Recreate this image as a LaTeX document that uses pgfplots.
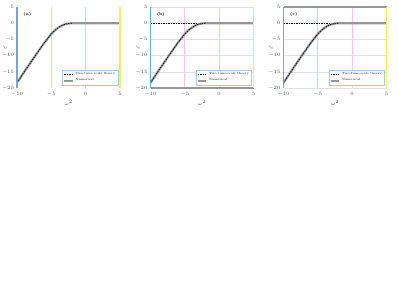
\documentclass[border=0pt]{standalone}
\usepackage{pgfplots}
\pgfplotsset{compat=1.18}
\definecolor{axblue}{RGB}{100,170,240}
\definecolor{axyellow}{RGB}{250,238,90}
\definecolor{gpink}{RGB}{248,195,238}
\definecolor{ggray}{RGB}{225,225,225}
\definecolor{numgray}{RGB}{150,150,150}
\definecolor{legbox}{RGB}{170,200,225}
\pgfplotstableread{
x y
-10 -18.4
-9 -15.2
-8 -12.1
-7 -9.0
-6 -6.0
-5 -3.3
-4.5 -2.25
-4 -1.4
-3.5 -0.75
-3 -0.32
-2.5 -0.08
-2 0
}\curveA
\pgfplotstableread{
x y
-10 -18.4
-9 -15.2
-8 -12.1
-7 -9.0
-6 -6.0
-5 -3.3
-4.5 -2.25
-4 -1.4
-3.5 -0.75
-3 -0.32
-2.5 -0.08
-2 0
5 0
}\numA
\tikzset{
 edgeL/.style={axblue, line width=1.2bp},
 edgeR/.style={axyellow, line width=1.2bp},
}
\pgfplotsset{
 panel/.style={
  scale only axis, width=103bp, height=81bp, anchor=south west,
  xmin=-10, xmax=5, ymin=-20, ymax=5,
  xtick={-10,-5,0,5}, ytick={-20,-15,-10,-5,0,5},
  axis line style={draw=none},
  major tick length=0pt,
  clip=false,
  tick label style={font=\fontsize{3.5}{4}\selectfont, text=black!70},
  yticklabel style={xshift=0.5bp},
  xticklabel style={yshift=-0.5bp},
  xmajorgrids, x grid style={gpink, line width=0.8bp},
  y grid style={ggray, line width=0.5bp},
  xlabel={$\omega^{2}$}, ylabel={$\tilde{\varepsilon}$},
  label style={font=\fontsize{4}{4.5}\selectfont, text=black!70},
  xlabel style={yshift=3bp},
  ylabel style={at={(axis description cs:-0.12,0.5)}, anchor=center},
  legend style={at={(rel axis cs:0.98,0.035)}, anchor=south east, draw=legbox,
    font=\fontsize{3}{3.5}\selectfont, inner sep=0.5pt, row sep=-1.5pt,
    cells={anchor=west}},
  reverse legend,
  legend image code/.code={\draw[#1] (0cm,0cm) -- (0.3cm,0cm);},
 },
 numstyle/.style={numgray, line width=2.2bp},
 tts/.style={black, line width=0.6bp, dash pattern=on 1.5bp off 1bp},
}
\begin{document}
\begin{tikzpicture}
\useasboundingbox (0,0) rectangle (399bp,299bp);
% panel (a)
\begin{axis}[panel, at={(17bp,211bp)}]
\addplot[numstyle] table {\numA};
\addlegendentry{Numerical}
\addplot[tts] table {\curveA};
\addlegendentry{Two-time-scale theory}
\draw[edgeL] (rel axis cs:0,0) -- (rel axis cs:0,1);
\draw[edgeR] (rel axis cs:1,0) -- (rel axis cs:1,1);
\node[font=\fontsize{4}{4.5}\selectfont\bfseries, anchor=center] at (rel axis cs:0.1,0.91) {(a)};
\end{axis}
% panel (b)
\begin{axis}[panel, at={(150.5bp,211bp)}, ymajorgrids]
\addplot[numstyle, forget plot] coordinates {(-10,-20) (5,-20)};
\addplot[tts, forget plot] coordinates {(-10,0) (-2,0)};
\addplot[numstyle] table {\numA};
\addlegendentry{Numerical}
\addplot[tts] table {\curveA};
\addlegendentry{Two-time-scale theory}
\draw[edgeL] (rel axis cs:0,0) -- (rel axis cs:0,1);
\draw[edgeR] (rel axis cs:1,0) -- (rel axis cs:1,1);
\node[font=\fontsize{4}{4.5}\selectfont\bfseries, anchor=center] at (rel axis cs:0.1,0.91) {(b)};
\end{axis}
% panel (c)
\begin{axis}[panel, at={(283.5bp,211bp)}, ymajorgrids]
\addplot[numstyle, forget plot] coordinates {(-10,5) (5,5)};
\addplot[tts, forget plot] coordinates {(-10,0) (-2,0)};
\addplot[numstyle] table {\numA};
\addlegendentry{Numerical}
\addplot[tts] table {\curveA};
\addlegendentry{Two-time-scale theory}
\draw[edgeL] (rel axis cs:0,0) -- (rel axis cs:0,1);
\draw[edgeR] (rel axis cs:1,0) -- (rel axis cs:1,1);
\node[font=\fontsize{4}{4.5}\selectfont\bfseries, anchor=center] at (rel axis cs:0.1,0.91) {(c)};
\end{axis}
\end{tikzpicture}
\end{document}
